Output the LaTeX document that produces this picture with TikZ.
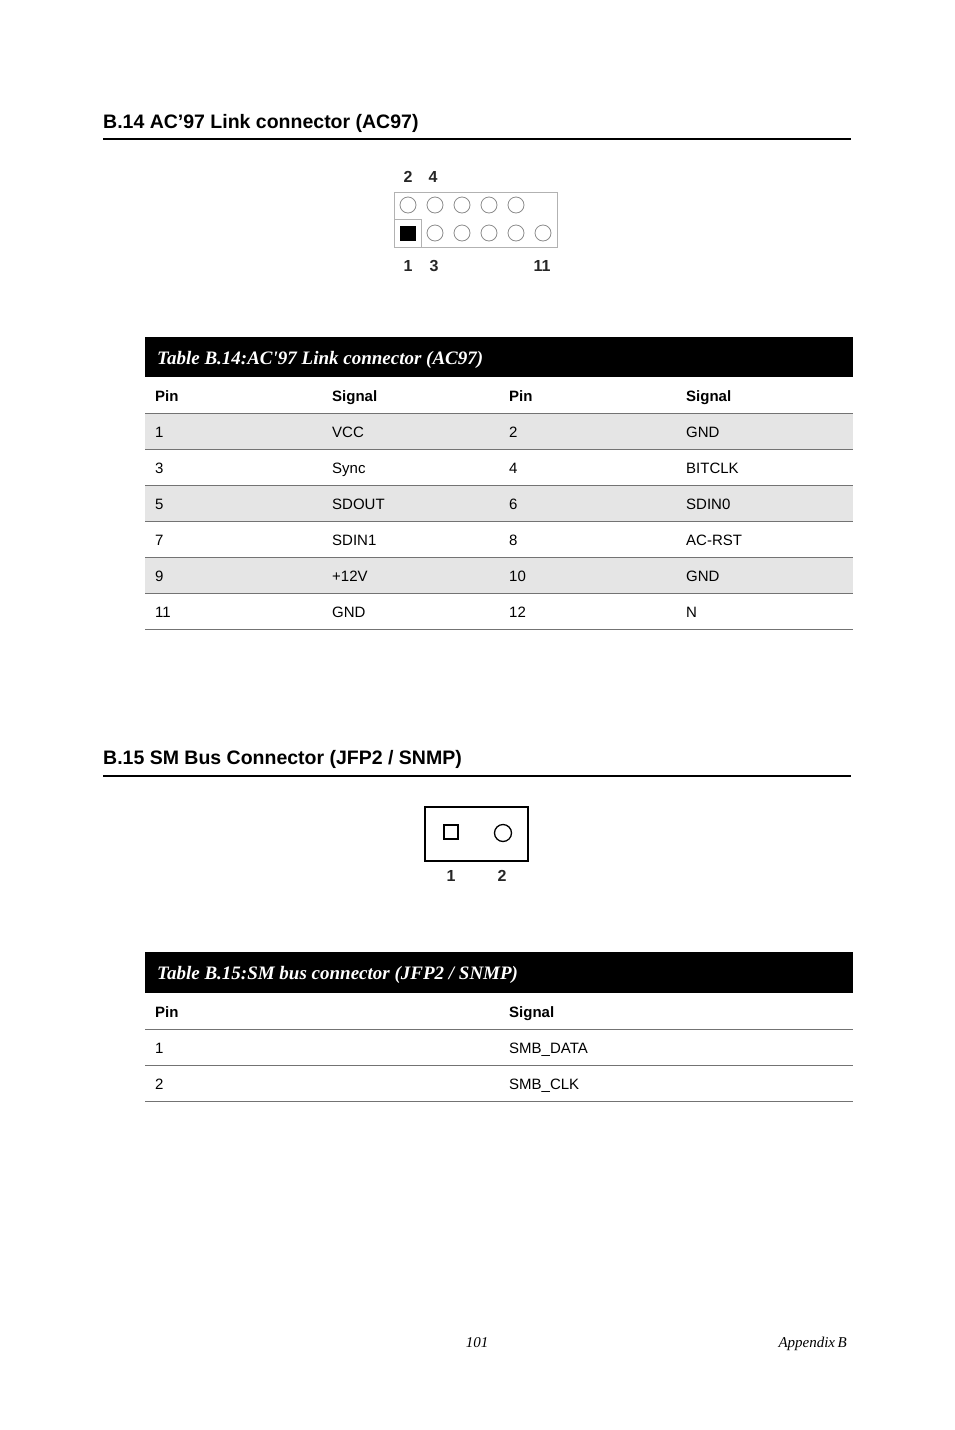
\documentclass[tikz,border=0pt]{standalone}
\usepackage{fontspec}
\setmainfont{Liberation Sans}
\newfontfamily\tms{Liberation Serif}
\begin{document}
\begin{tikzpicture}[x=1pt,y=-1pt,
  hd/.style={anchor=base west,font=\fontsize{19.5}{22}\selectfont\bfseries,inner sep=0},
  ttl/.style={anchor=base west,font=\tms\fontsize{19}{22}\selectfont\bfseries\itshape,text=white,inner sep=0},
  tx/.style={anchor=base west,font=\fontsize{15}{18}\selectfont,inner sep=0},
  th/.style={tx,font=\fontsize{15}{18}\selectfont\bfseries},
  pl/.style={font=\fontsize{16}{18}\selectfont\bfseries,inner sep=0,text=black!85},
  pin/.style={draw=black!45,line width=0.8pt},
  rule/.style={draw=black!55,line width=0.6pt}]
\useasboundingbox (0,0) rectangle (954,1430);
% Heading 1
\node[hd] (h1) at (103,128) {B.14 AC'97 Link connector (AC97)};
\draw[line width=2pt] (103,139) -- (851,139);
% connector 1
\draw[draw=black!30,line width=0.8pt] (394,192) rectangle (557,247);
\draw[draw=black!30,line width=0.8pt] (394,219) rectangle (421,247);
\foreach \x in {408,435,462,489,516} \draw[pin] (\x,205) circle (8);
\fill (400,226) rectangle (416,241);
\foreach \x in {435,462,489,516,543} \draw[pin] (\x,233) circle (8);
\node[pl] (p2) at (408,177) {2};
\node[pl] (p4) at (433,177) {4};
\node[pl] (p1) at (408,266) {1};
\node[pl] (p3) at (434,266) {3};
\node[pl] (p11) at (542,266) {11};
% table 1
\fill[black] (145,337) rectangle (853,377);
\node[ttl] (t1) at (157,364) {Table B.14:AC'97 Link connector (AC97)};
\node[th] at (155,401) {Pin};
\node[th] at (332,401) {Signal};
\node[th] at (509,401) {Pin};
\node[th] at (686,401) {Signal};
\foreach \i/\a/\b/\c/\d in {0/1/VCC/2/GND,1/3/Sync/4/BITCLK,2/5/SDOUT/6/SDIN0,3/7/SDIN1/8/AC-RST,4/9/+12V/10/GND,5/11/GND/12/N/C}{
  \pgfmathsetmacro{\yt}{413+36*\i}
  \pgfmathtruncatemacro{\odd}{mod(\i,2)}
  \ifnum\odd=0 \fill[black!10] (145,\yt) rectangle (853,\yt+36);\fi
  \draw[rule] (145,\yt) -- (853,\yt);
  \node[tx] at (155,\yt+24) {\a};
  \node[tx] at (332,\yt+24) {\b};
  \node[tx] at (509,\yt+24) {\c};
  \node[tx] at (686,\yt+24) {\d};
}
\draw[rule] (145,629) -- (853,629);
% Heading 2
\node[hd] (h2) at (103,764) {B.15 SM Bus Connector (JFP2 / SNMP)};
\draw[line width=2pt] (103,776) -- (851,776);
% connector 2
\draw[line width=1.6pt] (425,807) rectangle (528,861);
\draw[line width=1.3pt] (444,825) rectangle (458,839);
\draw[line width=1.3pt] (503,833) circle (8.5);
\node[pl] (q1) at (451,876) {1};
\node[pl] (q2) at (502,876) {2};
% table 2
\fill[black] (145,952) rectangle (853,993);
\node[ttl] (t2) at (157,979) {Table B.15:SM bus connector (JFP2 / SNMP)};
\node[th] at (155,1017) {Pin};
\node[th] at (509,1017) {Signal};
\draw[rule] (145,1029) -- (853,1029);
\node[tx] at (155,1053) {1};
\node[tx] at (509,1053) {SMB\_DATA};
\draw[rule] (145,1065) -- (853,1065);
\node[tx] at (155,1089) {2};
\node[tx] at (509,1089) {SMB\_CLK};
\draw[rule] (145,1101) -- (853,1101);
% footer
\node[anchor=base,font=\tms\fontsize{15}{18}\selectfont\itshape,inner sep=0] (pg) at (477,1347) {101};
\node[anchor=base east,font=\tms\fontsize{15}{18}\selectfont\itshape,inner sep=0] (ap) at (847,1347) {Appendix\,B};
\end{tikzpicture}
\end{document}
